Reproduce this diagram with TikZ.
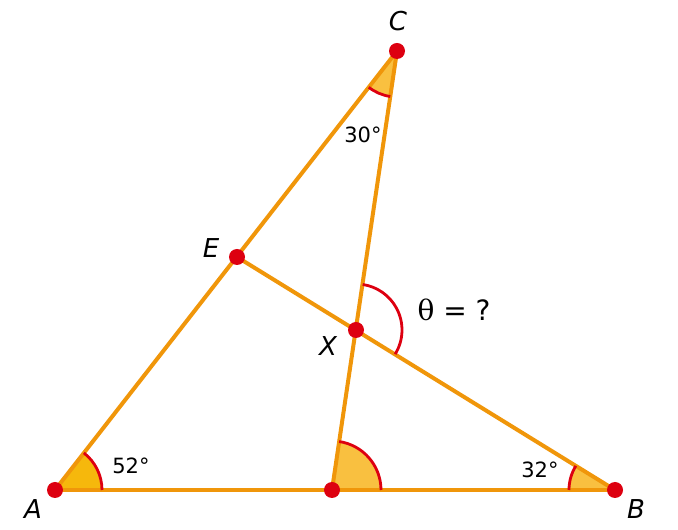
\documentclass[tikz,border=0pt]{standalone}
\usepackage{fontspec}
\setmainfont{DejaVu Sans}
\newfontfamily\thetafont{DejaVu Serif}
\definecolor{edgeor}{HTML}{F0960A}
\definecolor{dotred}{HTML}{DD0010}
\definecolor{fillA}{HTML}{F6B80C}
\definecolor{fillB}{HTML}{F9C040}
\begin{document}
\begin{tikzpicture}[x=1pt,y=1pt,
edge/.style={draw=edgeor, line width=4pt},
arcmark/.style={draw=dotred, line width=2.8pt},
pt/.style={circle, fill=dotred, inner sep=0pt, minimum size=16pt},
lbl/.style={font=\fontsize{26}{30}\selectfont\itshape},
deg/.style={font=\fontsize{21}{25}\selectfont}
]
\useasboundingbox (0,0) rectangle (678,530);
\coordinate (A) at (55,40);
\coordinate (B) at (615,40);
\coordinate (C) at (397,479);
\coordinate (E) at (237,273);
\coordinate (X) at (356,200);
\coordinate (D) at (332,40);
% angle sectors
\fill[fillA] (A) -- ++(0:47) arc[start angle=0, end angle=52.1, radius=47] -- cycle;
\fill[fillB] (D) -- ++(0:49) arc[start angle=0, end angle=81.6, radius=49] -- cycle;
\fill[fillB] (B) -- ++(148.35:46) arc[start angle=148.35, end angle=180, radius=46] -- cycle;
\fill[fillB] (C) -- ++(232.1:46) arc[start angle=232.1, end angle=261.6, radius=46] -- cycle;
% sides
\draw[edge] (A) -- (B);
\draw[edge] (A) -- (C);
\draw[edge] (C) -- (D);
\draw[edge] (E) -- (B);
% arcs
\draw[arcmark] ([shift={(0:47)}]A) arc[start angle=0, end angle=52.1, radius=47];
\draw[arcmark] ([shift={(0:49)}]D) arc[start angle=0, end angle=81.6, radius=49];
\draw[arcmark] ([shift={(148.35:46)}]B) arc[start angle=148.35, end angle=180, radius=46];
\draw[arcmark] ([shift={(232.1:46)}]C) arc[start angle=232.1, end angle=261.6, radius=46];
\draw[arcmark] ([shift={(-31.65:46)}]X) arc[start angle=-31.65, end angle=81.6, radius=46];
% points
\foreach \p in {A,B,C,E,X,D} {\node[pt] (dot\p) at (\p) {};}
\node[lbl] (labA) at (33,21) {A};
\node[lbl] (labB) at (636,21) {B};
\node[lbl] (labC) at (398,509) {C};
\node[lbl] (labE) at (211,282) {E};
\node[lbl] (labX) at (328,184) {X};
\node[deg] (angA) at (131,64) {52°};
\node[deg] (angB) at (540,60) {32°};
\node[deg] (angC) at (363,395) {30°};
\node[font=\fontsize{28}{32}\selectfont] (theta) at (454,220) {{\thetafont θ} = ?};
\end{tikzpicture}
\end{document}
